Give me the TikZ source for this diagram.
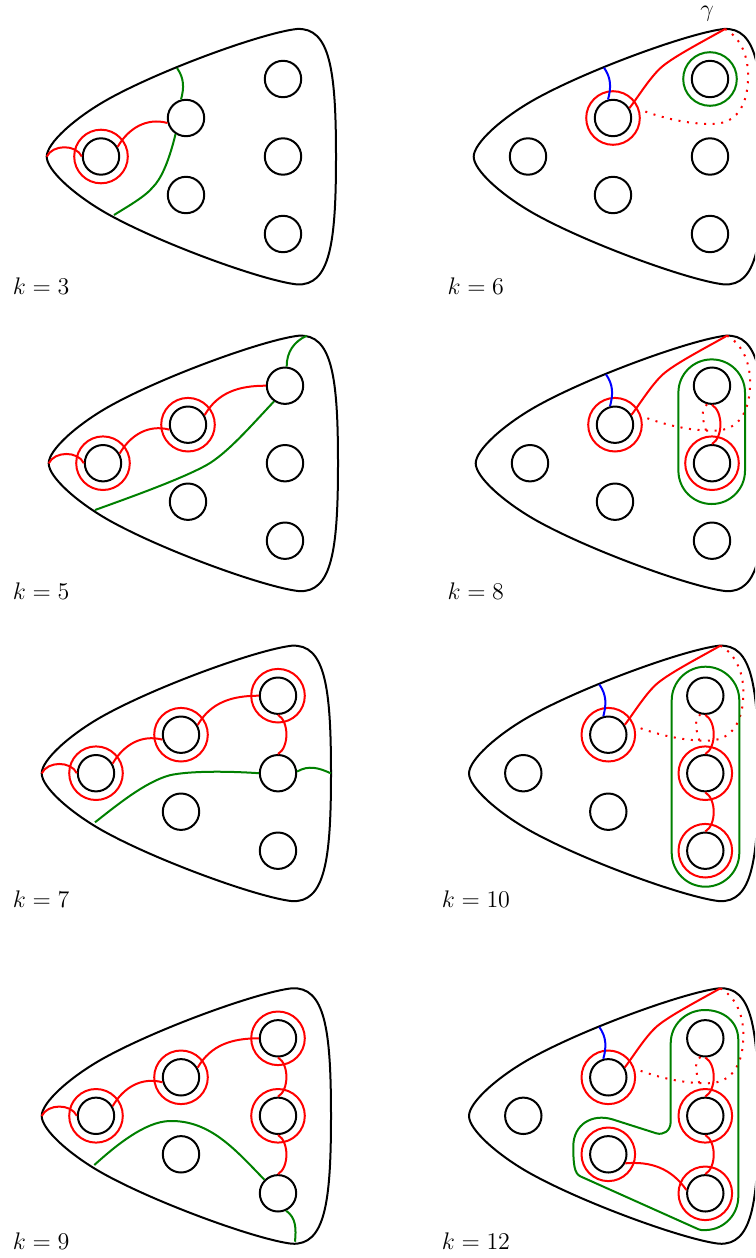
\documentclass[tikz,border=0pt]{standalone}
\usepackage{amsmath}
\usetikzlibrary{positioning}

\tikzset{
    hole/.style={circle, draw, line width=1pt, minimum size=18.2pt, inner sep=0pt, on grid},
    redring/.style={circle, draw=red, line width=1pt, minimum size=26.8pt, inner sep=0pt},
    greenring/.style={circle, draw=darkgreen, line width=1pt, minimum size=26.8pt, inner sep=0pt},
    redline/.style={draw=red, line width=1pt},
    greenline/.style={draw=darkgreen, line width=1pt},
    blueline/.style={draw=blue, line width=1pt},
    reddots/.style={draw=red, line width=1pt, dash pattern=on 1pt off 3.3pt},
    klabel/.style={anchor=base west, font=\large, inner sep=0pt}
}
\definecolor{darkgreen}{RGB}{0,128,0}

\newcommand{\surface}{
    \draw[line width=1pt] (46.7,156.7) .. controls (46.7,143) and (75,118) .. (106.7,100)
        .. controls (160,70) and (262,33) .. (296.7,29)
        .. controls (330,27) and (336,70) .. (336,156.7)
        .. controls (336,243.4) and (330,286.4) .. (296.7,284.4)
        .. controls (262,280.4) and (160,243.4) .. (106.7,213.4)
        .. controls (75,195.4) and (46.7,170.4) .. (46.7,156.7) -- cycle;
    \coordinate (tip) at (46.7,156.7);
    \coordinate (top) at (298,29);
    \node[hole] (a) at (101,156.5) {};
    \node[hole, above right=19.25pt and 42.5pt of a] (b) {};
    \node[hole, below right=19.25pt and 42.5pt of a] (c) {};
    \node[hole, right=91pt of a] (e) {};
    \node[hole, above=38.75pt of e] (d) {};
    \node[hole, below=38.75pt of e] (f) {};
}

% curva gamma
\newcommand{\gammacurve}{
    \node[redring] (rb) at (b) {};
    \draw[blueline] (177,67.7) to[out=-55,in=75] (b.105);
    \draw[redline] (b.31) .. controls (211,97) and (222,79) .. (233,68.5)
        .. controls (244,58) and (275,42) .. (top);
    \draw[reddots] (top) .. controls (318,40) and (322,65) .. (321,80)
        .. controls (320,105) and (310,124) .. (285,124)
        .. controls (260,124) and (235,118) .. (rb.18);
}

\newcommand{\tipline}{
    \node[redring] (ra) at (a) {};
    \draw[redline] (tip) to[out=65,in=115] (a.180);
    \draw[redline] (a.30) to[out=60,in=165] (b.195);
}

\begin{document}
\begin{tikzpicture}[x=0.5pt, y=-0.5pt]
    \useasboundingbox (0,0) rectangle (755,1258);
    \clip (0,0) rectangle (755,1258);

    \begin{scope}[name prefix=kthree-]
    \surface
    \tipline
    \coordinate (up) at (177,68);
    \coordinate (low) at (114,215);
    \draw[greenline] (up) to[out=-55,in=75] (b.105);
    \draw[greenline] (b.237) .. controls (168,165) and (160,180) .. (153,187)
        .. controls (145,197) and (125,208) .. (low);
    \node[klabel] (lab) at (12.5,294.3) {$k=3$};
    \end{scope}

    \begin{scope}[shift={(427,0)}, name prefix=ksix-]
    \surface
    \gammacurve
    \node[greenring] (gd) at (d) {};
    \node[font=\large, inner sep=0pt] (gam) at (280,14) {$\gamma$};
    \node[klabel] (lab) at (20.2,294.3) {$k=6$};
    \end{scope}

    \begin{scope}[shift={(2,306.7)}, name prefix=kfive-]
    \surface
    \tipline
    \node[redring] (rb) at (b) {};
    \draw[redline] (b.30) to[out=60,in=180] (d.180);
    \coordinate (up) at (304.7,29);
    \coordinate (low) at (93,203.3);
    \draw[greenline] (up) to[out=205,in=90] (d.85);
    \draw[greenline] (d.235) .. controls (250,118) and (225,147) .. (204.7,158.3)
        .. controls (180,172) and (130,190) .. (low);
    \node[klabel] (lab) at (10.5,292.3) {$k=5$};
    \end{scope}

    \begin{scope}[shift={(429,306.7)}, name prefix=keight-]
    \surface
    \gammacurve
    \node[redring] (re) at (e) {};
    \draw[greenline, rounded corners=16.6pt] (249.4,52.7) rectangle (316,197.3);
    \draw[redline] (d.270) to[out=-30,in=30,looseness=0.85] (e.90);
    \draw[reddots] (d.255) to[out=-135,in=100] (re.100);
    \node[klabel] (lab) at (18.2,292.3) {$k=8$};
    \end{scope}

    \begin{scope}[shift={(-5,616.7)}, name prefix=kseven-]
    \surface
    \tipline
    \node[redring] (rb) at (b) {};
    \node[redring] (rd) at (d) {};
    \draw[redline] (b.30) to[out=60,in=180] (d.180);
    \draw[redline] (d.270) to[out=-30,in=30,looseness=0.85] (e.90);
    \coordinate (low) at (100,205.6);
    \coordinate (right) at (336,156.7);
    \draw[greenline] (low) .. controls (120,190) and (150,165) .. (175,158.5)
        .. controls (195,154) and (235,154.5) .. (e.180);
    \draw[greenline] (e.5) to[out=30,in=155] (right);
    \node[klabel] (lab) at (17.5,291) {$k=7$};
    \end{scope}

    \begin{scope}[shift={(422.3,616.7)}, name prefix=kten-]
    \surface
    \gammacurve
    \node[redring] (re) at (e) {};
    \node[redring] (rf) at (f) {};
    \draw[greenline, rounded corners=16.9pt] (249.4,50) rectangle (317,270);
    \draw[redline] (d.270) to[out=-30,in=30,looseness=0.85] (e.90);
    \draw[redline] (e.270) to[out=-30,in=30,looseness=0.85] (f.90);
    \draw[reddots] (d.255) to[out=-135,in=100] (re.100);
    \node[klabel] (lab) at (19.2,291) {$k=10$};
    \end{scope}

    \begin{scope}[shift={(-5,959.3)}, name prefix=knine-]
    \surface
    \tipline
    \node[redring] (rb) at (b) {};
    \node[redring] (rd) at (d) {};
    \node[redring] (re) at (e) {};
    \draw[redline] (b.30) to[out=60,in=180] (d.180);
    \draw[redline] (d.270) to[out=-30,in=30,looseness=0.85] (e.90);
    \draw[redline] (e.270) to[out=-30,in=30,looseness=0.85] (f.90);
    \coordinate (low) at (99.3,205.7);
    \coordinate (bot) at (300,282.4);
    \draw[greenline] (low) .. controls (120,187) and (150,162) .. (175,161.7)
        .. controls (215,161) and (240,190) .. (f.135);
    \draw[greenline] (f.-65) to[out=-35,in=85] (bot);
    \node[klabel] (lab) at (17.5,289.7) {$k=9$};
    \end{scope}

    \begin{scope}[shift={(422.3,959.3)}, name prefix=ktwelve-]
    \surface
    \gammacurve
    \node[redring] (rc) at (c) {};
    \node[redring] (re) at (e) {};
    \node[redring] (rf) at (f) {};
    \draw[greenline] (248.4,84) -- (248.4,162) .. controls (248.4,172) and (241,176) .. (234,174)
        -- (190,160) .. controls (170,154) and (151,165) .. (151,187)
        .. controls (151,205) and (152,214) .. (158,217) -- (274,269)
        .. controls (278,271) and (280,271) .. (284.4,270.7)
        .. controls (302,270) and (316,255) .. (316,237.4) -- (316,80.7)
        .. controls (316,62) and (301,50.7) .. (282.5,50.7)
        .. controls (264,50.7) and (248.4,65) .. (248.4,84) -- cycle;
    \draw[redline] (d.270) to[out=-30,in=30,looseness=0.85] (e.90);
    \draw[redline] (e.270) to[out=-30,in=30,looseness=0.85] (f.90);
    \draw[reddots] (d.255) to[out=-135,in=100] (re.100);
    \draw[redline] (c.-28) to[out=5,in=125] (f.170);
    \node[klabel] (lab) at (19.2,289.7) {$k=12$};
    \end{scope}
\end{tikzpicture}
\end{document}
